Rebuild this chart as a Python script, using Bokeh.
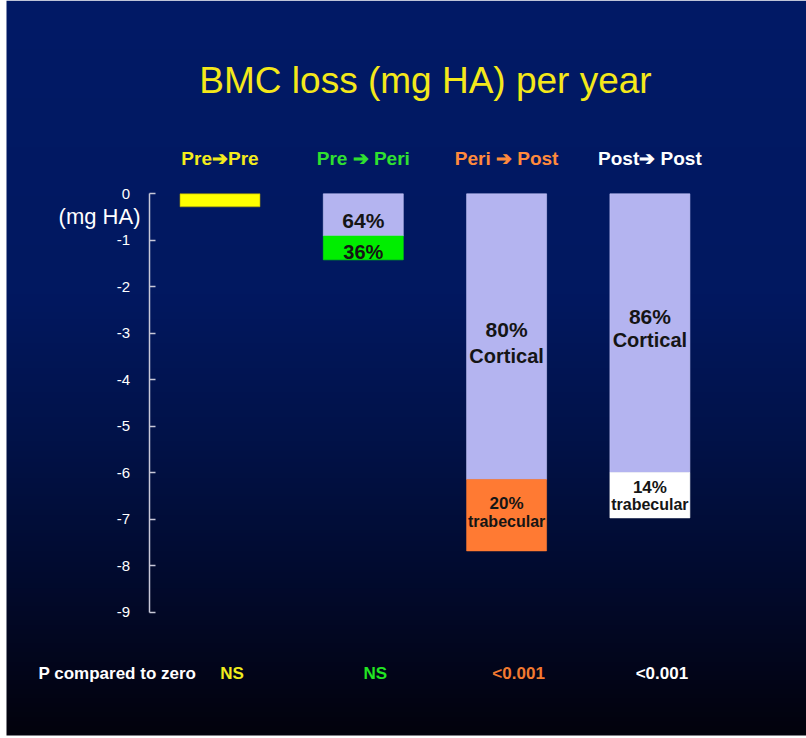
import numpy as np
from bokeh.plotting import figure
from bokeh.models import ColumnDataSource, Range1d, LinearAxis, FixedTicker
from bokeh.core.properties import value
from bokeh.embed import file_html
from bokeh.resources import INLINE

# ---------------- data ----------------
groups = ["Pre\u2794Pre", "Pre \u2794 Peri", "Peri \u2794 Post", "Post\u2794 Post"]
group_colors = ["#f4ec1c", "#30e030", "#ff8a3c", "#ffffff"]

# annual BMC loss (mg HA) and its split between cortical and trabecular bone
total_loss = [-0.28, -1.42, -7.68, -6.97]
cortical_pct = [None, 64, 80, 86]
trabecular_pct = [None, 36, 20, 14]
trabecular_colors = [None, "#00ee00", "#ff7a33", "#ffffff"]
cortical_names = ["", "", "Cortical", "Cortical"]
trabecular_names = ["", "", "trabecular", "trabecular"]

p_values = ["NS", "NS", "<0.001", "<0.001"]
p_colors = ["#f0ec1e", "#22e622", "#f27a30", "#ffffff"]

y_ticks = [0, -1, -2, -3, -4, -5, -6, -7, -8, -9]
y_tick_labels = ["0", "-1", "-2", "-3", "-4", "-5", "-6", "-7", "-8", "-9"]

# ---------------- layout helpers ----------------
W, H = 806, 738
X0_PX, X_PX_PER_UNIT = 219.5, 143.3     # centre of the first column, column spacing
Y0_PX, Y_PX_PER_UNIT = 193.3, 46.5      # zero line, pixels per mg HA


def xpx(px):
    return (px - X0_PX) / X_PX_PER_UNIT


def ypx(py):
    return -(py - Y0_PX) / Y_PX_PER_UNIT


FONT = value("Liberation Sans")
BAR_W = 80 / X_PX_PER_UNIT

p = figure(width=W, height=H, x_range=Range1d(xpx(0), xpx(W)),
           y_range=Range1d(ypx(H), ypx(0)),
           output_backend="svg", toolbar_location=None,
           x_axis_type=None, y_axis_type=None, min_border=0,
           outline_line_color=None, background_fill_color="white",
           border_fill_color="white")

# ---------------- background gradient ----------------
GH = 735
stops = [0.0, 0.4, 0.6, 0.8, 1.0]
R = [1, 1, 1, 2, 2]
G = [26, 24, 18, 10, 2]
B = [102, 96, 72, 44, 12]
t = (np.arange(GH) + 0.5) / GH
grad = np.empty((GH, 1), dtype=np.uint32)
view = grad.view(dtype=np.uint8).reshape((GH, 1, 4))
view[:, 0, 0] = np.interp(t, stops, R)[::-1]
view[:, 0, 1] = np.interp(t, stops, G)[::-1]
view[:, 0, 2] = np.interp(t, stops, B)[::-1]
view[:, 0, 3] = 255
p.image_rgba(image=[grad], x=xpx(6), y=ypx(GH), dw=xpx(W) - xpx(6),
             dh=ypx(0) - ypx(GH))

# ---------------- y axis ----------------
axis = LinearAxis(fixed_location=xpx(148.5), ticker=FixedTicker(ticks=y_ticks),
                  bounds=(-9, 0))
axis.major_label_overrides = {t_: s for t_, s in zip(y_ticks, y_tick_labels)}
axis.axis_line_color = "#c8c8d8"
axis.axis_line_width = 1.5
axis.major_tick_line_color = "#c8c8d8"
axis.major_tick_line_width = 1.5
axis.major_tick_in = 6
axis.major_tick_out = 0
axis.minor_tick_in = 0
axis.minor_tick_out = 0
axis.major_label_text_color = "white"
axis.major_label_text_font = "Liberation Sans"
axis.major_label_text_font_size = "15px"
axis.major_label_standoff = 19
p.add_layout(axis, "left")

# ---------------- bars ----------------
idx = list(range(len(groups)))

# Pre -> Pre: single bar
p.vbar(x=[idx[0]], width=BAR_W, top=[0], bottom=[total_loss[0]],
       fill_color="#ffff00", line_color="#b0a000", line_width=0.6)

split_idx = [i for i in idx if cortical_pct[i] is not None]
cort_bottom = [total_loss[i] * cortical_pct[i] / 100 for i in split_idx]
seg = ColumnDataSource(dict(
    x=split_idx,
    cort_top=[0] * len(split_idx),
    cort_bottom=cort_bottom,
    trab_bottom=[total_loss[i] for i in split_idx],
    trab_color=[trabecular_colors[i] for i in split_idx],
))
p.vbar(x="x", width=BAR_W, top="cort_top", bottom="cort_bottom", source=seg,
       fill_color="#b4b4f0", line_color="#c8c8f8", line_width=0.6)
p.vbar(x="x", width=BAR_W, top="cort_bottom", bottom="trab_bottom", source=seg,
       fill_color="trab_color", line_color="trab_color", line_width=0.6)

# ---------------- labels inside bars ----------------
cort_mid = [c / 2 for c in cort_bottom]
trab_mid = [(cort_bottom[k] + total_loss[i]) / 2 for k, i in enumerate(split_idx)]

pct_src = ColumnDataSource(dict(
    x=split_idx + split_idx,
    y=cort_mid + trab_mid,
    text=[f"{cortical_pct[i]}%" for i in split_idx] + [f"{trabecular_pct[i]}%" for i in split_idx],
    dy=[6, -7, -17, 4, -12, -8],
    size=["21px", "21px", "21px", "20px", "17px", "17px"],
))
p.text(x="x", y="y", text="text", y_offset="dy", source=pct_src,
       text_font=FONT, text_font_style="bold", text_font_size="size",
       text_color="#151515", text_align="center", text_baseline="middle")

name_src = ColumnDataSource(dict(
    x=split_idx[1:] + split_idx[1:],
    y=cort_mid[1:] + trab_mid[1:],
    text=[cortical_names[i] for i in split_idx[1:]] + [trabecular_names[i] for i in split_idx[1:]],
    dy=[19, 7, 6, 9],
    size=["20px", "20px", "16px", "16px"],
))
p.text(x="x", y="y", text="text", y_offset="dy", source=name_src,
       text_font=FONT, text_font_style="bold", text_font_size="size",
       text_color="#151515", text_align="center", text_baseline="middle")

# ---------------- headers and titles ----------------
head_src = ColumnDataSource(dict(x=idx, y=[ypx(158)] * 4, text=groups, color=group_colors))
p.text(x="x", y="y", text="text", source=head_src, text_color="color",
       text_font=FONT, text_font_style="bold", text_font_size="19px",
       text_align="center", text_baseline="middle")

p.text(x=[xpx(425)], y=[ypx(80)], text=["BMC loss (mg HA) per year"],
       text_font=FONT, text_font_size="37px", text_color="#f4e81a",
       text_align="center", text_baseline="middle")

p.text(x=[xpx(140)], y=[ypx(216)], text=["(mg HA)"],
       text_font=FONT, text_font_size="22px", text_color="white",
       text_align="right", text_baseline="middle")

# ---------------- significance row ----------------
p.text(x=[xpx(38)], y=[ypx(673)], text=["P compared to zero"],
       text_font=FONT, text_font_style="bold", text_font_size="17px",
       text_color="white", text_align="left", text_baseline="middle")
pv_src = ColumnDataSource(dict(x=idx, y=[ypx(673)] * 4, text=p_values, color=p_colors))
p.text(x="x", y="y", text="text", x_offset=12, source=pv_src, text_color="color",
       text_font=FONT, text_font_style="bold", text_font_size="17px",
       text_align="center", text_baseline="middle")

open("out.html", "w").write(file_html(p, INLINE))
